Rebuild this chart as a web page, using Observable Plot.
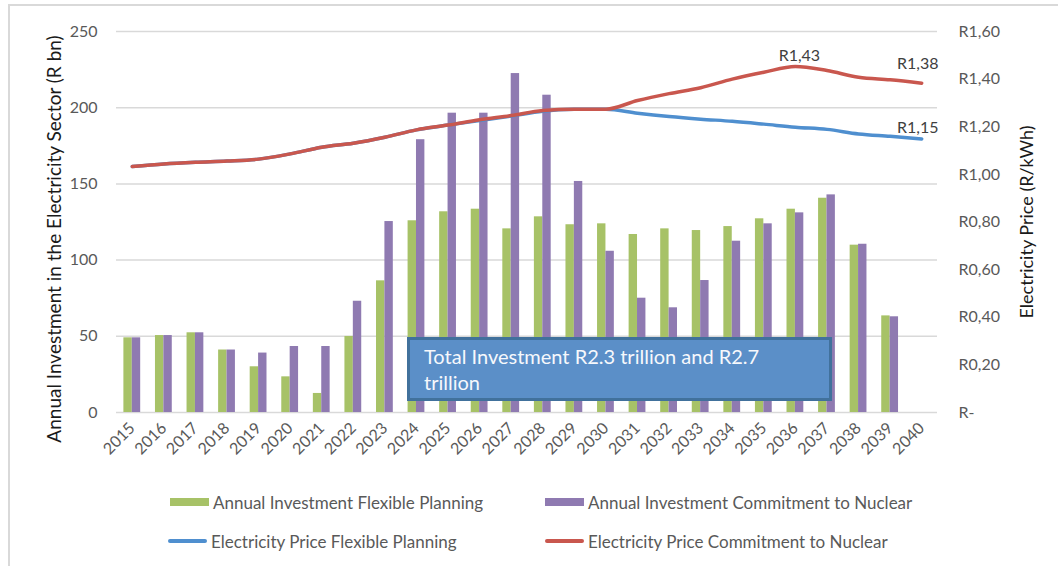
<!DOCTYPE html>
<html>
<head>
<meta charset="utf-8">
<script src="https://cdn.jsdelivr.net/npm/d3@7"></script>
<script src="https://cdn.jsdelivr.net/npm/@observablehq/plot@0.6"></script>
<style>
  html, body { margin: 0; padding: 0; background: #fff; }
  #wrap { position: relative; width: 1058px; height: 566px; overflow: hidden; font-family: Lato, "Open Sans", sans-serif; }
  #frame { position: absolute; left: 8px; top: 4px; width: 1100px; height: 600px; border-left: 2px solid #d9d9d9; border-top: 2px solid #d9d9d9; }
  #chart { position: absolute; left: 0; top: 0; }
  .ytitle { position: absolute; color: #1a1a1a; white-space: nowrap; transform: translate(-50%, -50%) rotate(-90deg); }
  #box { position: absolute; left: 407px; top: 337px; width: 405px; height: 58px; background: #5b8fc8; border: 3px solid #41719c; color: #f6f8fc; font-size: 20px; line-height: 26px; padding: 0 0 0 14px; box-sizing: content-box; }
  #box span { display: block; padding-top: 3px; width: 365px; }
  .leg { position: absolute; font-size: 17px; color: #595959; white-space: nowrap; display: flex; align-items: center; }
  .sw { display: inline-block; width: 39px; margin-right: 4px; }
</style>
</head>
<body>
<div id="wrap">
  <div id="frame"></div>
  <div id="chart"></div>
  <div class="ytitle" style="left:53px; top:239px; font-size:19px;">Annual Investment in the Electricity Sector (R bn)</div>
  <div class="ytitle" style="left:1026px; top:222px; font-size:18px;">Electricity Price (R/kWh)</div>
  <div id="box"><span>Total Investment R2.3 trillion and R2.7 trillion</span></div>
  <div id="legend"></div>
</div>
<script>
const years = ["2015","2016","2017","2018","2019","2020","2021","2022","2023","2024","2025","2026","2027","2028","2029","2030","2031","2032","2033","2034","2035","2036","2037","2038","2039","2040"];
const investFlexible = [49, 50.5, 52.3, 41, 30, 23.4, 12.5, 49.9, 86.4, 125.8, 131.7, 133.4, 120.5, 128.4, 123.2, 123.8, 116.8, 120.5, 119.4, 122, 127.1, 133.4, 140.6, 109.8, 63.4, null];
const investNuclear = [49, 50.5, 52.3, 41, 39, 43.3, 43.3, 73, 125.3, 179, 196.4, 196.4, 222.4, 208.2, 151.6, 105.8, 75, 68.7, 86.6, 112.4, 123.8, 131, 142.8, 110.4, 62.8, null];
const priceFlexible = [1.033, 1.044, 1.051, 1.056, 1.064, 1.086, 1.114, 1.131, 1.156, 1.187, 1.207, 1.226, 1.245, 1.265, 1.273, 1.274, 1.257, 1.243, 1.232, 1.223, 1.211, 1.198, 1.189, 1.17, 1.16, 1.149];
const priceNuclear = [1.033, 1.044, 1.051, 1.056, 1.064, 1.086, 1.114, 1.131, 1.156, 1.187, 1.207, 1.229, 1.247, 1.268, 1.274, 1.274, 1.31, 1.339, 1.364, 1.40, 1.429, 1.453, 1.436, 1.408, 1.397, 1.383];
const investTicks = [0, 50, 100, 150, 200, 250];
const priceTicks = [0, 0.2, 0.4, 0.6, 0.8, 1.0, 1.2, 1.4, 1.6];
const priceTickLabels = ["R-", "R0,20", "R0,40", "R0,60", "R0,80", "R1,00", "R1,20", "R1,40", "R1,60"];
const labelYears = ["2036", "2040", "2040"];
const labelSeries = ["nuclear", "nuclear", "flexible"];
const labelTexts = ["R1,43", "R1,38", "R1,15"];
const seriesNames = ["Annual Investment Flexible Planning", "Annual Investment Commitment to Nuclear", "Electricity Price Flexible Planning", "Electricity Price Commitment to Nuclear"];

const colors = { green: "#a7c267", purple: "#8f7ab1", blue: "#4f8fcf", red: "#c9574e" };
const investMax = 250, priceMax = 1.6;
const k = investMax / priceMax; // price -> left-axis units

const rows = years.map((y, i) => ({
  year: y, flex: investFlexible[i], nuc: investNuclear[i], pf: priceFlexible[i], pn: priceNuclear[i]
}));
const labels = labelYears.map((y, i) => {
  const r = rows.find(d => d.year === y);
  return { year: y, v: labelSeries[i] === "nuclear" ? r.pn : r.pf, text: labelTexts[i] };
});

const barW = 8.4, half = 821 / 26 / 2;
const lbl = (i, dx, dy) => Plot.text([labels[i]], {
  x: "year", y: d => d.v * k, text: "text", dx, dy, fill: "#404040", fontSize: 16, lineAnchor: "middle"
});

const plot = Plot.plot({
  width: 1058,
  height: 470,
  marginLeft: 116,
  marginRight: 121,
  marginTop: 31,
  marginBottom: 58,
  style: { fontFamily: "Lato, 'Open Sans', sans-serif", fontSize: "16px", color: "#595959", background: "transparent" },
  x: { type: "band", domain: years, padding: 0, round: false, label: null },
  y: { domain: [0, investMax], label: null },
  marks: [
    Plot.gridY(investTicks, { stroke: "#d9d9d9", strokeOpacity: 1, strokeWidth: 1.5 }),
    Plot.barY(rows.filter(d => d.flex != null), { x: "year", y: "flex", fill: colors.green, insetLeft: half - barW, insetRight: half }),
    Plot.barY(rows.filter(d => d.nuc != null), { x: "year", y: "nuc", fill: colors.purple, insetLeft: half, insetRight: half - barW }),
    Plot.lineY(rows, { x: "year", y: d => d.pf * k, stroke: colors.blue, strokeWidth: 3.5, curve: "monotone-x" }),
    Plot.lineY(rows, { x: "year", y: d => d.pn * k, stroke: colors.red, strokeWidth: 3.5, curve: "monotone-x" }),
    lbl(0, 4, -11),
    lbl(1, -4, -19),
    lbl(2, -4, -11),
    Plot.axisY(investTicks, { anchor: "left", tickSize: 0, tickPadding: 19, label: null, fontSize: 16 }),
    Plot.axisY(priceTicks.map(v => v * k), { anchor: "right", tickSize: 0, tickPadding: 21, textAnchor: "start", label: null, fontSize: 16, tickFormat: (d, i) => priceTickLabels[i] }),
    Plot.axisX({ tickRotate: -45, tickSize: 0, tickPadding: 13, label: null, fontSize: 16 })
  ]
});
document.getElementById("chart").appendChild(plot);

// legend
const legend = document.getElementById("legend");
const legItems = [
  { name: seriesNames[0], color: colors.green, kind: "rect", left: 170, top: 502 },
  { name: seriesNames[1], color: colors.purple, kind: "rect", left: 545, top: 502 },
  { name: seriesNames[2], color: colors.blue, kind: "line", left: 168, top: 541 },
  { name: seriesNames[3], color: colors.red, kind: "line", left: 545, top: 541 }
];
legItems.forEach(it => {
  const d = document.createElement("div");
  d.className = "leg";
  d.style.left = it.left + "px";
  d.style.top = (it.top - 10) + "px";
  d.style.height = "20px";
  const s = document.createElement("span");
  s.className = "sw";
  s.style.background = it.color;
  s.style.height = it.kind === "rect" ? "8px" : "4px";
  s.style.borderRadius = it.kind === "rect" ? "0" : "2px";
  d.appendChild(s);
  d.appendChild(document.createTextNode(it.name));
  legend.appendChild(d);
});
</script>
</body>
</html>
